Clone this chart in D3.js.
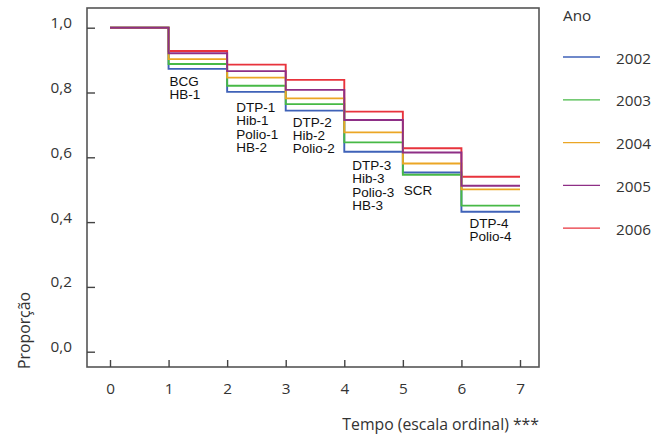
<!DOCTYPE html>
<html lang="pt">
<head>
<meta charset="UTF-8">
<title>Proporção por tempo e ano</title>
<script src="https://d3js.org/d3.v7.min.js"></script>
<style>
  body { margin: 0; background: #fff; }
  svg { display: block; }
  .tick text, .legenda text { font-family: "Open Sans", sans-serif; font-size: 15.3px; fill: #333; }
  .titulo { font-family: "Open Sans", sans-serif; font-size: 15.8px; fill: #333; }
  .nota { font-family: "Liberation Sans", Arial, sans-serif; font-size: 13.5px; fill: #111; }
</style>
</head>
<body>
<svg id="grafico" width="667" height="435"></svg>
<script>
// dados
const tempos = [0, 1, 2, 3, 4, 5, 6, 7];
const anos = ["2002", "2003", "2004", "2005", "2006"];
const s2002 = [1.0, 0.873, 0.802, 0.744, 0.617, 0.553, 0.432];
const s2003 = [1.0, 0.888, 0.821, 0.764, 0.646, 0.546, 0.451];
const s2004 = [1.0, 0.903, 0.846, 0.782, 0.677, 0.581, 0.501];
const s2005 = [1.0, 0.921, 0.866, 0.808, 0.715, 0.615, 0.512];
const s2006 = [1.0, 0.928, 0.886, 0.839, 0.741, 0.628, 0.540];
const yTicks = [0, 0.2, 0.4, 0.6, 0.8, 1.0];
const vacinas = [
  { t: 1, linhas: ["BCG", "HB-1"] },
  { t: 2, linhas: ["DTP-1", "Hib-1", "Polio-1", "HB-2"] },
  { t: 3, linhas: ["DTP-2", "Hib-2", "Polio-2"] },
  { t: 4, linhas: ["DTP-3", "Hib-3", "Polio-3", "HB-3"] },
  { t: 5, linhas: ["SCR"] },
  { t: 6, linhas: ["DTP-4", "Polio-4"] }
];

const cores = { "2002": "#3f62b8", "2003": "#47b946", "2004": "#eba625", "2005": "#8e2f86", "2006": "#e8333c" };
const series = { "2002": s2002, "2003": s2003, "2004": s2004, "2005": s2005, "2006": s2006 };

const svg = d3.select("#grafico");
const esq = 87, dir = 539, topo = 8, base = 367;

const x = d3.scaleLinear().domain([0, 7]).range([110, 520]);
const y = d3.scaleLinear().domain([0, 1]).range([351.7, 27.7]);

// moldura
svg.append("rect")
  .attr("x", esq).attr("y", topo)
  .attr("width", dir - esq).attr("height", base - topo)
  .attr("fill", "none").attr("stroke", "#555").attr("stroke-width", 1.6);

// eixo y
const eixoY = svg.append("g")
  .attr("transform", `translate(${esq},0)`)
  .call(d3.axisLeft(y).tickValues(yTicks).tickSize(-8)
    .tickFormat(d => d3.format(".1f")(d).replace(".", ",")));
eixoY.select(".domain").remove();
eixoY.selectAll(".tick line").attr("stroke", "#444").attr("stroke-width", 1.4);
eixoY.selectAll(".tick text").attr("x", -15).attr("dy", 0);

// eixo x
const eixoX = svg.append("g")
  .attr("transform", `translate(0,${base})`)
  .call(d3.axisBottom(x).tickValues(tempos).tickSize(-7).tickFormat(d3.format("d")));
eixoX.select(".domain").remove();
eixoX.selectAll(".tick line").attr("stroke", "#444").attr("stroke-width", 1.4);
eixoX.selectAll(".tick text").attr("y", 27).attr("dy", 0);

// títulos
svg.append("text").attr("class", "titulo")
  .attr("text-anchor", "end")
  .attr("x", dir).attr("y", 430)
  .text("Tempo (escala ordinal) ***");
svg.append("text").attr("class", "titulo")
  .attr("text-anchor", "middle")
  .attr("transform", "translate(30,330.5) rotate(-90)")
  .text("Proporção");

// curvas em degrau
const linha = d3.line()
  .x(d => x(d[0]))
  .y(d => y(d[1]))
  .curve(d3.curveStepAfter);

const ordem = ["2006", "2002", "2003", "2004", "2005"];
ordem.forEach(ano => {
  const v = series[ano];
  const pts = tempos.map((t, i) => [t, v[Math.min(i, v.length - 1)]]);
  svg.append("path")
    .datum(pts)
    .attr("d", linha)
    .attr("fill", "none")
    .attr("stroke", cores[ano])
    .attr("stroke-width", 1.9);
});

// notas das vacinas
const ajusteX = [1, 9, 7, 8, 1, 8];
const ajusteY = [17, 20, 16, 18, 20, 16];
vacinas.forEach((g, i) => {
  const minimo = d3.min(anos, a => series[a][g.t]);
  const txt = svg.append("text").attr("class", "nota")
    .attr("x", x(g.t) + ajusteX[i])
    .attr("y", y(minimo) + ajusteY[i]);
  g.linhas.forEach((l, j) => {
    txt.append("tspan")
      .attr("x", x(g.t) + ajusteX[i])
      .attr("dy", j === 0 ? 0 : 13.4)
      .text(l);
  });
});

// legenda
const leg = svg.append("g").attr("class", "legenda");
leg.append("text").attr("x", 563).attr("y", 20.5).text("Ano");
anos.forEach((ano, i) => {
  const yy = 57 + i * 42.8;
  leg.append("line")
    .attr("x1", 563).attr("x2", 600)
    .attr("y1", yy).attr("y2", yy)
    .attr("stroke", cores[ano]).attr("stroke-width", 1.3);
  leg.append("text")
    .attr("x", 616).attr("y", yy + 6.5)
    .text(ano);
});
</script>
</body>
</html>
